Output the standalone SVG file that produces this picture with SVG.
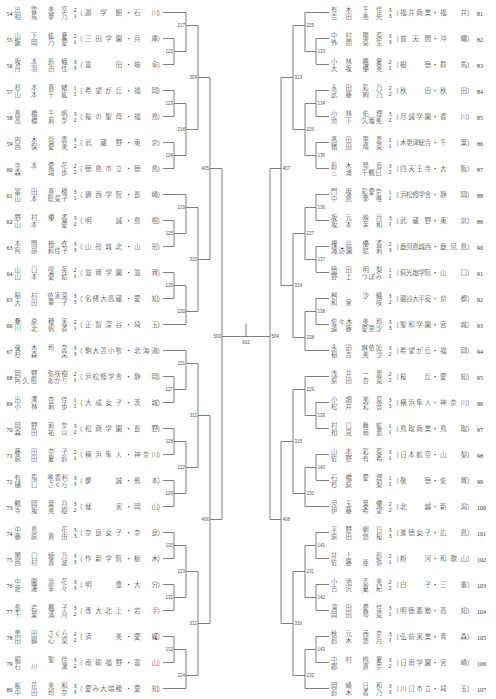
<svg xmlns="http://www.w3.org/2000/svg" xmlns:xlink="http://www.w3.org/1999/xlink" width="496" height="699" viewBox="0 0 496 699">
<style>
.p{font-family:"Noto Sans CJK JP","Noto Sans CJK SC",sans-serif;font-size:6.3px;font-weight:300;fill:#222}
.s{font-family:"Noto Sans CJK JP","Noto Sans CJK SC",sans-serif;font-size:6.6px;font-weight:300;fill:#222}
.n,.g{font-family:"Liberation Serif",serif;font-size:6px;fill:#333}
.m{font-family:"Liberation Sans",sans-serif;font-size:4.5px;fill:#555}
.c path{fill:none;stroke:#707070;stroke-width:0.9}
</style>
<defs>
<g id="lp" font-family="Noto Sans CJK JP, sans-serif" font-size="6.6" font-weight="300" fill="#222"><text x="76" y="2.6">（</text><text x="125.2" y="2.6">・</text><text x="157.5" y="2.6">）</text></g>
<g id="rp" font-family="Noto Sans CJK JP, sans-serif" font-size="6.6" font-weight="300" fill="#222"><text x="392.2" y="2.6">（</text><text x="431.7" y="2.6">・</text><text x="467" y="2.6">）</text></g>
</defs>
<rect width="496" height="699" fill="#fff"/>

<g class="c" id="connectors">
<path d="M163 38.5H174V64.5H163M174 51.5H186"/>
<path d="M163 90.5H174V116.5H163M174 103.5H186"/>
<path d="M163 142.5H174V168.5H163M174 155.5H186"/>
<path d="M163 220.5H174V246.5H163M174 233.5H186"/>
<path d="M163 272.5H174V298.5H163M174 285.5H186"/>
<path d="M163 376.5H174V402.5H163M174 389.5H186"/>
<path d="M163 428.5H174V454.5H163M174 441.5H186"/>
<path d="M163 480.5H174V506.5H163M174 493.5H186"/>
<path d="M163 532.5H174V558.5H163M174 545.5H186"/>
<path d="M163 584.5H174V610.5H163M174 597.5H186"/>
<path d="M163 636.5H174V662.5H163M174 649.5H186"/>
<path d="M163 12.5H186M163 194.5H186M163 324.5H186M163 350.5H186M163 688.5H186"/>
<path d="M186 12.5V51.5M186 25.5H198"/>
<path d="M186 103.5V155.5M186 129.5H198"/>
<path d="M186 194.5V233.5M186 207.5H198"/>
<path d="M186 285.5V324.5M186 311.5H198"/>
<path d="M186 350.5V389.5M186 363.5H198"/>
<path d="M186 441.5V493.5M186 467.5H198"/>
<path d="M186 545.5V597.5M186 571.5H198"/>
<path d="M186 649.5V688.5M186 675.5H198"/>
<path d="M198 25.5V129.5M198 77.5H210"/>
<path d="M198 207.5V311.5M198 259.5H210"/>
<path d="M198 363.5V467.5M198 415.5H210"/>
<path d="M198 571.5V675.5M198 623.5H210"/>
<path d="M210 77.5V259.5M210 168.5H222"/>
<path d="M210 415.5V623.5M210 519.5H222"/>
<path d="M222 168.5V519.5M222 336.5H270"/>
<path d="M270 168.5V519.5"/>
<path d="M246 323.5V336.5"/>
<path d="M329 38.5H316V64.5H329M316 51.5H305"/>
<path d="M329 90.5H316V116.5H329M316 103.5H305"/>
<path d="M329 142.5H316V168.5H329M316 155.5H305"/>
<path d="M329 194.5H316V220.5H329M316 207.5H305"/>
<path d="M329 246.5H316V272.5H329M316 259.5H305"/>
<path d="M329 298.5H316V324.5H329M316 311.5H305"/>
<path d="M329 402.5H316V428.5H329M316 415.5H305"/>
<path d="M329 454.5H316V480.5H329M316 467.5H305"/>
<path d="M329 532.5H316V558.5H329M316 545.5H305"/>
<path d="M329 584.5H316V610.5H329M316 597.5H305"/>
<path d="M329 636.5H316V662.5H329M316 649.5H305"/>
<path d="M329 12.5H305M329 350.5H305M329 376.5H305M329 506.5H305M329 688.5H305"/>
<path d="M305 12.5V51.5M305 25.5H293"/>
<path d="M305 103.5V155.5M305 129.5H293"/>
<path d="M305 207.5V259.5M305 233.5H293"/>
<path d="M305 311.5V350.5M305 337.5H293"/>
<path d="M305 376.5V415.5M305 389.5H293"/>
<path d="M305 467.5V506.5M305 493.5H293"/>
<path d="M305 545.5V597.5M305 571.5H293"/>
<path d="M305 649.5V688.5M305 675.5H293"/>
<path d="M293 25.5V129.5M293 77.5H281"/>
<path d="M293 233.5V337.5M293 285.5H281"/>
<path d="M293 389.5V493.5M293 441.5H281"/>
<path d="M293 571.5V675.5M293 623.5H281"/>
<path d="M281 77.5V285.5M281 168.5H270"/>
<path d="M281 441.5V623.5M281 519.5H270"/>
</g>

<g id="match-labels" class="m">
<g text-anchor="end">
<text x="173" y="53.1">122</text><text x="173" y="105.1">123</text><text x="173" y="157.1">124</text><text x="173" y="235.1">125</text><text x="173" y="287.1">126</text><text x="173" y="391.1">127</text><text x="173" y="443.1">128</text><text x="173" y="495.1">129</text><text x="173" y="547.1">130</text><text x="173" y="599.1">131</text><text x="173" y="651.1">132</text>
<text x="185" y="27.1">217</text><text x="185" y="131.1">218</text><text x="185" y="209.1">219</text><text x="185" y="313.1">220</text><text x="185" y="365.1">221</text><text x="185" y="469.1">222</text><text x="185" y="573.1">223</text><text x="185" y="677.1">224</text>
<text x="197" y="79.1">309</text><text x="197" y="261.1">310</text><text x="197" y="417.1">311</text><text x="197" y="625.1">312</text>
<text x="209" y="170.1">405</text><text x="209" y="521.1">406</text>
<text x="221" y="338.1">503</text>
</g>
<text x="246" y="344" text-anchor="middle">602</text>
<text x="317.5" y="53.1">133</text><text x="317.5" y="105.1">134</text><text x="317.5" y="157.1">135</text><text x="317.5" y="209.1">136</text><text x="317.5" y="261.1">137</text><text x="317.5" y="313.1">138</text><text x="317.5" y="417.1">139</text><text x="317.5" y="469.1">140</text><text x="317.5" y="547.1">141</text><text x="317.5" y="599.1">142</text><text x="317.5" y="651.1">143</text>
<text x="306.5" y="27.1">225</text><text x="306.5" y="131.1">226</text><text x="306.5" y="235.1">227</text><text x="306.5" y="339.1">228</text><text x="306.5" y="391.1">229</text><text x="306.5" y="495.1">230</text><text x="306.5" y="573.1">231</text><text x="306.5" y="677.1">232</text>
<text x="294.5" y="79.1">313</text><text x="294.5" y="287.1">314</text><text x="294.5" y="443.1">315</text><text x="294.5" y="625.1">316</text>
<text x="282.5" y="170.1">407</text><text x="282.5" y="521.1">408</text>
<text x="271.5" y="338.1">504</text>
</g>

<g id="e54" transform="translate(0,12.5)"><text class="n" x="6.5" y="3.5">54</text><text class="p"><tspan x="14.6 31 48 61.3" y="-0.5">出雲美空</tspan><tspan x="14.6 31 48 61.3" y="6.1">相馬夢乃</tspan></text><text class="g"><tspan x="73.5" y="-0.9">2</tspan><tspan x="73.5" y="5.7">1</tspan></text><use xlink:href="#lp"/><text class="s" x="85" y="2.6" textLength="37">遊学館</text><text class="s" x="134" y="2.6" textLength="24">石川</text></g>
<g id="e55" transform="translate(0,38.5)"><text class="n" x="6.5" y="3.5">55</text><text class="p"><tspan x="14.6 31 48 61.3" y="-0.5">山下紘夏</tspan><tspan x="14.6 31 48 61.3" y="6.1">飯岡乃愛</tspan></text><text class="g"><tspan x="73.5" y="-0.9">2</tspan><tspan x="73.5" y="5.7">1</tspan></text><use xlink:href="#lp"/><text class="s" x="85" y="2.6" textLength="37">三田学園</text><text class="s" x="134" y="2.6" textLength="24">兵庫</text></g>
<g id="e56" transform="translate(0,64.5)"><text class="n" x="6.5" y="3.5">56</text><text class="p"><tspan x="14.6 31 48 61.3" y="-0.5">坂本鈴織</tspan><tspan x="14.6 31 48 61.3" y="6.1">丹羽由佳</tspan></text><text class="g"><tspan x="73.5" y="-0.9">3</tspan><tspan x="73.5" y="5.7">3</tspan></text><use xlink:href="#lp"/><text class="s" x="85" y="2.6" textLength="37">富田</text><text class="s" x="134" y="2.6" textLength="24">岐阜</text></g>
<g id="e57" transform="translate(0,90.5)"><text class="n" x="6.5" y="3.5">57</text><text class="p"><tspan x="14.6 31 48 61.3" y="-0.5">杉本真緒</tspan><tspan x="14.6 31 48 61.3" y="6.1">山本千紘</tspan></text><text class="g"><tspan x="73.5" y="-0.9">1</tspan><tspan x="73.5" y="5.7">1</tspan></text><use xlink:href="#lp"/><text class="s" x="85" y="2.6" textLength="37">希望が丘</text><text class="s" x="134" y="2.6" textLength="24">福岡</text></g>
<g id="e58" transform="translate(0,116.5)"><text class="n" x="6.5" y="3.5">58</text><text class="p"><tspan x="14.6 31 48 61.3" y="-0.5">髙橋千帆</tspan><tspan x="14.6 31 48 61.3" y="6.1">高橋莉奈</tspan></text><text class="g"><tspan x="73.5" y="-0.9">3</tspan><tspan x="73.5" y="5.7">2</tspan></text><use xlink:href="#lp"/><text class="s" x="85" y="2.6" textLength="37">桜の聖母</text><text class="s" x="134" y="2.6" textLength="24">福島</text></g>
<g id="e59" transform="translate(0,142.5)"><text class="n" x="6.5" y="3.5">59</text><text class="p"><tspan x="14.6 31 48 61.3" y="-0.5">内木尚恵</tspan><tspan x="14.6 31 48 61.3" y="6.1">西保愛美</tspan></text><text class="g"><tspan x="73.5" y="-0.9">3</tspan><tspan x="73.5" y="5.7">2</tspan></text><use xlink:href="#lp"/><text class="s" x="85" y="2.6" textLength="37">武蔵野</text><text class="s" x="134" y="2.6" textLength="24">東京</text></g>
<g id="e60" transform="translate(0,168.5)"><text class="n" x="6.5" y="3.5">60</text><text class="p"><tspan x="14.6 31 48 61.3" y="-0.5">寺本愛花</tspan><tspan x="14.6 31 48 61.3" y="6.1">森　瑞歩</tspan></text><text class="g"><tspan x="73.5" y="-0.9">2</tspan><tspan x="73.5" y="5.7">2</tspan></text><use xlink:href="#lp"/><text class="s" x="85" y="2.6" textLength="37">徳島市立</text><text class="s" x="134" y="2.6" textLength="24">徳島</text></g>
<g id="e61" transform="translate(0,194.5)"><text class="n" x="6.5" y="3.5">61</text><text class="p"><tspan x="14.6 31 48 61.3" y="-0.5">冨田真穂</tspan><tspan x="14.6 31 47.5 54.5 61.5" y="6.1">山本聡菜子</tspan></text><text class="g"><tspan x="73.5" y="-0.9">3</tspan><tspan x="73.5" y="5.7">1</tspan></text><use xlink:href="#lp"/><text class="s" x="85" y="2.6" textLength="37">鎮西学院</text><text class="s" x="134" y="2.6" textLength="24">長崎</text></g>
<g id="e62" transform="translate(0,220.5)"><text class="n" x="6.5" y="3.5">62</text><text class="p"><tspan x="14.6 31 48 61.3" y="-0.5">野村優香</tspan><tspan x="14.6 31 48 61.3" y="6.1">山本　愛</tspan></text><text class="g"><tspan x="73.5" y="-0.9">3</tspan><tspan x="73.5" y="5.7">2</tspan></text><use xlink:href="#lp"/><text class="s" x="85" y="2.6" textLength="37">明誠</text><text class="s" x="134" y="2.6" textLength="24">島根</text></g>
<g id="e63" transform="translate(0,246.5)"><text class="n" x="6.5" y="3.5">63</text><text class="p"><tspan x="14.6 31 48 61.3" y="-0.5">本間柚衣</tspan><tspan x="14.6 31 47.5 54.5 61.5" y="6.1">阿部莉佳子</tspan></text><text class="g"><tspan x="73.5" y="-0.9">3</tspan><tspan x="73.5" y="5.7">3</tspan></text><use xlink:href="#lp"/><text class="s" x="85" y="2.6" textLength="37">山形城北</text><text class="s" x="134" y="2.6" textLength="24">山形</text></g>
<g id="e64" transform="translate(0,272.5)"><text class="n" x="6.5" y="3.5">64</text><text class="p"><tspan x="14.6 31 48 61.3" y="-0.5">山口咲英</tspan><tspan x="14.6 31 48 61.3" y="6.1">山本愛結</tspan></text><text class="g"><tspan x="73.5" y="-0.9">2</tspan><tspan x="73.5" y="5.7">1</tspan></text><use xlink:href="#lp"/><text class="s" x="85" y="2.6" textLength="37">滋賀学園</text><text class="s" x="134" y="2.6" textLength="24">滋賀</text></g>
<g id="e65" transform="translate(0,298.5)"><text class="n" x="6.5" y="3.5">65</text><text class="p"><tspan x="14.6 31 47.5 54.5 61.5" y="-0.5">稲村依実菜</tspan><tspan x="14.6 31 48 61.3" y="6.1">大田華子</tspan></text><text class="g"><tspan x="73.5" y="-0.9">3</tspan><tspan x="73.5" y="5.7">3</tspan></text><use xlink:href="#lp"/><text class="s" x="85" y="2.6" textLength="37">名経大高蔵</text><text class="s" x="134" y="2.6" textLength="24">愛知</text></g>
<g id="e66" transform="translate(0,324.5)"><text class="n" x="6.5" y="3.5">66</text><text class="p"><tspan x="14.6 31 48 61.3" y="-0.5">桑原穂実</tspan><tspan x="14.6 31 48 61.3" y="6.1">川北帆香</tspan></text><text class="g"><tspan x="73.5" y="-0.9">2</tspan><tspan x="73.5" y="5.7">1</tspan></text><use xlink:href="#lp"/><text class="s" x="85" y="2.6" textLength="37">正智深谷</text><text class="s" x="134" y="2.6" textLength="24">埼玉</text></g>
<g id="e67" transform="translate(0,350.5)"><text class="n" x="6.5" y="3.5">67</text><text class="p"><tspan x="14.6 31 48 61.3" y="-0.5">後木玲奈</tspan><tspan x="14.6 31 48 61.3" y="6.1">杉森　栞</tspan></text><text class="g"><tspan x="73.5" y="-0.9">3</tspan><tspan x="73.5" y="5.7">3</tspan></text><use xlink:href="#lp"/><text class="s" x="85" y="2.6" textLength="37">駒大苫小牧</text><text class="s" x="134" y="2.6" textLength="24">北海道</text></g>
<g id="e68" transform="translate(0,376.5)"><text class="n" x="6.5" y="3.5">68</text><text class="p"><tspan x="14.6 31 47.5 54.5 61.5" y="-0.5">岡野弥咲樹</tspan><tspan x="14.6 22.6 30.6 47.5 54.5 61.5" y="6.1">阿久根あかり</tspan></text><text class="g"><tspan x="73.5" y="-0.9">2</tspan><tspan x="73.5" y="5.7">1</tspan></text><use xlink:href="#lp"/><text class="s" x="85" y="2.6" textLength="37">浜松修学舎</text><text class="s" x="134" y="2.6" textLength="24">静岡</text></g>
<g id="e69" transform="translate(0,402.5)"><text class="n" x="6.5" y="3.5">69</text><text class="p"><tspan x="14.6 31 48 61.3" y="-0.5">出澤杏佳</tspan><tspan x="14.6 31 48 61.3" y="6.1">小林莉歩</tspan></text><text class="g"><tspan x="73.5" y="-0.9">1</tspan><tspan x="73.5" y="5.7">1</tspan></text><use xlink:href="#lp"/><text class="s" x="85" y="2.6" textLength="37">大成女子</text><text class="s" x="134" y="2.6" textLength="24">茨城</text></g>
<g id="e70" transform="translate(0,428.5)"><text class="n" x="6.5" y="3.5">70</text><text class="p"><tspan x="14.6 31 48 61.3" y="-0.5">岡野莉奈</tspan><tspan x="14.6 31 48 61.3" y="6.1">森田祐以</tspan></text><text class="g"><tspan x="73.5" y="-0.9">3</tspan><tspan x="73.5" y="5.7">2</tspan></text><use xlink:href="#lp"/><text class="s" x="85" y="2.6" textLength="37">松商学園</text><text class="s" x="134" y="2.6" textLength="24">長野</text></g>
<g id="e71" transform="translate(0,454.5)"><text class="n" x="6.5" y="3.5">71</text><text class="p"><tspan x="14.6 31 48 61.3" y="-0.5">藤田奈子</tspan><tspan x="14.6 31 48 61.3" y="6.1">原田夏鈴</tspan></text><text class="g"><tspan x="73.5" y="-0.9">2</tspan><tspan x="73.5" y="5.7">1</tspan></text><use xlink:href="#lp"/><text class="s" x="85" y="2.6" textLength="37">横浜隼人</text><text class="s" x="134" y="2.6" textLength="24">神奈川</text></g>
<g id="e72" transform="translate(0,480.5)"><text class="n" x="6.5" y="3.5">72</text><text class="p"><tspan x="14.6 31 47.5 54.5 61.5" y="-0.5">有馬唯香利</tspan><tspan x="14.6 31 47.5 54.5 61.5" y="6.1">樋口さくら</tspan></text><text class="g"><tspan x="73.5" y="-0.9">3</tspan><tspan x="73.5" y="5.7">3</tspan></text><use xlink:href="#lp"/><text class="s" x="85" y="2.6" textLength="37">慶誠</text><text class="s" x="134" y="2.6" textLength="24">熊本</text></g>
<g id="e73" transform="translate(0,506.5)"><text class="n" x="6.5" y="3.5">73</text><text class="p"><tspan x="14.6 31 48 61.3" y="-0.5">鶴岡葉月</tspan><tspan x="14.6 31 48 61.3" y="6.1">寺坂美樹</tspan></text><text class="g"><tspan x="73.5" y="-0.9">3</tspan><tspan x="73.5" y="5.7">2</tspan></text><use xlink:href="#lp"/><text class="s" x="85" y="2.6" textLength="37">就実</text><text class="s" x="134" y="2.6" textLength="24">岡山</text></g>
<g id="e74" transform="translate(0,532.5)"><text class="n" x="6.5" y="3.5">74</text><text class="p"><tspan x="14.6 31 48 61.3" y="-0.5">中島　花</tspan><tspan x="14.6 31 48 61.3" y="6.1">藤原真由</tspan></text><text class="g"><tspan x="73.5" y="-0.9">3</tspan><tspan x="73.5" y="5.7">3</tspan></text><use xlink:href="#lp"/><text class="s" x="85" y="2.6" textLength="37">奈良女子</text><text class="s" x="134" y="2.6" textLength="24">奈良</text></g>
<g id="e75" transform="translate(0,558.5)"><text class="n" x="6.5" y="3.5">75</text><text class="p"><tspan x="14.6 31 48 61.3" y="-0.5">関口綾乃</tspan><tspan x="14.6 31 48 61.3" y="6.1">西村真波</tspan></text><text class="g"><tspan x="73.5" y="-0.9">3</tspan><tspan x="73.5" y="5.7">3</tspan></text><use xlink:href="#lp"/><text class="s" x="85" y="2.6" textLength="37">作新学院</text><text class="s" x="134" y="2.6" textLength="24">栃木</text></g>
<g id="e76" transform="translate(0,584.5)"><text class="n" x="6.5" y="3.5">76</text><text class="p"><tspan x="14.6 31 48 61.3" y="-0.5">中園涼花</tspan><tspan x="14.6 31 48 61.3" y="6.1">渡邊寧々</tspan></text><text class="g"><tspan x="73.5" y="-0.9">3</tspan><tspan x="73.5" y="5.7">3</tspan></text><use xlink:href="#lp"/><text class="s" x="85" y="2.6" textLength="37">明豊</text><text class="s" x="134" y="2.6" textLength="24">大分</text></g>
<g id="e77" transform="translate(0,610.5)"><text class="n" x="6.5" y="3.5">77</text><text class="p"><tspan x="14.6 31 48 61.3" y="-0.5">長岩楓子</tspan><tspan x="14.6 31 48 61.3" y="6.1">千葉満月</tspan></text><text class="g"><tspan x="73.5" y="-0.9">3</tspan><tspan x="73.5" y="5.7">2</tspan></text><use xlink:href="#lp"/><text class="s" x="85" y="2.6" textLength="37">専大北上</text><text class="s" x="134" y="2.6" textLength="24">岩手</text></g>
<g id="e78" transform="translate(0,636.5)"><text class="n" x="6.5" y="3.5">78</text><text class="p"><tspan x="14.6 31 47.5 54.5 61.5" y="-0.5">黒田さくら</tspan><tspan x="14.6 31 48 61.3" y="6.1">田鍋心菜</tspan></text><text class="g"><tspan x="73.5" y="-0.9">2</tspan><tspan x="73.5" y="5.7">2</tspan></text><use xlink:href="#lp"/><text class="s" x="85" y="2.6" textLength="37">済美</text><text class="s" x="134" y="2.6" textLength="24">愛媛</text></g>
<g id="e79" transform="translate(0,662.5)"><text class="n" x="6.5" y="3.5">79</text><text class="p"><tspan x="14.6 31 48 61.3" y="-0.5">堀　聖佳</tspan><tspan x="14.6 31 48 61.3" y="6.1">石川　凜</tspan></text><text class="g"><tspan x="73.5" y="-0.9">3</tspan><tspan x="73.5" y="5.7">2</tspan></text><use xlink:href="#lp"/><text class="s" x="85" y="2.6" textLength="37">南砺福野</text><text class="s" x="134" y="2.6" textLength="24">富山</text></g>
<g id="e80" transform="translate(0,688.5)"><text class="n" x="6.5" y="3.5">80</text><text class="p"><tspan x="14.6 31 48 61.3" y="-0.5">板花美和</tspan><tspan x="14.6 31 48 61.3" y="6.1">中田玲奈</tspan></text><text class="g"><tspan x="73.5" y="-0.9">3</tspan><tspan x="73.5" y="5.7">3</tspan></text><use xlink:href="#lp"/><text class="s" x="85" y="2.6" textLength="37">愛み大瑞穂</text><text class="s" x="134" y="2.6" textLength="24">愛知</text></g>

<g id="e81" transform="translate(0,12.5)"><text class="p"><tspan x="331.1 345.6 362.6 376.1" y="-0.5">有木千佳</tspan><tspan x="331.1 345.6 362.6 376.1" y="6.1">吉田美央</tspan></text><text class="g"><tspan x="388.5" y="-0.9">3</tspan><tspan x="388.5" y="5.7">3</tspan></text><use xlink:href="#rp"/><text class="s" x="400" y="2.6" textLength="31">福井商業</text><text class="s" x="440" y="2.6" textLength="27">福井</text><text class="n" x="477" y="3.5">81</text></g>
<g id="e82" transform="translate(0,38.5)"><text class="p"><tspan x="331.1 345.6 362.6 376.1" y="-0.5">中村陽菜</tspan><tspan x="331.1 345.6 362.6 376.1" y="6.1">外間菜生</tspan></text><text class="g"><tspan x="388.5" y="-0.9">3</tspan><tspan x="388.5" y="5.7">3</tspan></text><use xlink:href="#rp"/><text class="s" x="400" y="2.6" textLength="31">普天間</text><text class="s" x="440" y="2.6" textLength="27">沖縄</text><text class="n" x="477" y="3.5">82</text></g>
<g id="e83" transform="translate(0,64.5)"><text class="p"><tspan x="331.1 345.6 362.6 376.1" y="-0.5">小林楓夏</tspan><tspan x="331.1 345.6 362.6 376.1" y="6.1">大坂優美</tspan></text><text class="g"><tspan x="388.5" y="-0.9">2</tspan><tspan x="388.5" y="5.7">1</tspan></text><use xlink:href="#rp"/><text class="s" x="400" y="2.6" textLength="31">樹徳</text><text class="s" x="440" y="2.6" textLength="27">群馬</text><text class="n" x="477" y="3.5">83</text></g>
<g id="e84" transform="translate(0,90.5)"><text class="p"><tspan x="331.1 345.6 362.6 376.1" y="-0.5">永田彩乃</tspan><tspan x="331.1 345.6 362.6 376.1" y="6.1">武藤絢乃</tspan></text><text class="g"><tspan x="388.5" y="-0.9">2</tspan><tspan x="388.5" y="5.7">2</tspan></text><use xlink:href="#rp"/><text class="s" x="400" y="2.6" textLength="31">秋田</text><text class="s" x="440" y="2.6" textLength="27">秋田</text><text class="n" x="477" y="3.5">84</text></g>
<g id="e85" transform="translate(0,116.5)"><text class="p"><tspan x="331.1 345.6 362.6 376.1" y="-0.5">小林佑理</tspan><tspan x="331.1 345.6 361.6 368.6 375.6" y="6.1">池下久瑠美</tspan></text><text class="g"><tspan x="388.5" y="-0.9">3</tspan><tspan x="388.5" y="5.7">2</tspan></text><use xlink:href="#rp"/><text class="s" x="400" y="2.6" textLength="31">尽誠学園</text><text class="s" x="440" y="2.6" textLength="27">香川</text><text class="n" x="477" y="3.5">85</text></g>
<g id="e86" transform="translate(0,142.5)"><text class="p"><tspan x="331.1 345.6 362.6 376.1" y="-0.5">髙田里恵</tspan><tspan x="331.1 345.6 362.6 376.1" y="6.1">猪田晴菜</tspan></text><text class="g"><tspan x="388.5" y="-0.9">1</tspan><tspan x="388.5" y="5.7">1</tspan></text><use xlink:href="#rp"/><text class="s" x="400" y="2.6" textLength="31">木更津総合</text><text class="s" x="440" y="2.6" textLength="27">千葉</text><text class="n" x="477" y="3.5">86</text></g>
<g id="e87" transform="translate(0,168.5)"><text class="p"><tspan x="331.1 345.6 362.6 376.1" y="-0.5">鈴木琴音</tspan><tspan x="331.1 345.6 361.6 368.6 375.6" y="6.1">三浦千鶴巳</tspan></text><text class="g"><tspan x="388.5" y="-0.9">3</tspan><tspan x="388.5" y="5.7">2</tspan></text><use xlink:href="#rp"/><text class="s" x="400" y="2.6" textLength="31">四天王寺</text><text class="s" x="440" y="2.6" textLength="27">大阪</text><text class="n" x="477" y="3.5">87</text></g>
<g id="e88" transform="translate(0,194.5)"><text class="p"><tspan x="331.1 345.6 361.6 368.6 375.6" y="-0.5">門坂彩愛奈</tspan><tspan x="331.1 345.6 362.6 376.1" y="6.1">中島夢唯</tspan></text><text class="g"><tspan x="388.5" y="-0.9">1</tspan><tspan x="388.5" y="5.7">1</tspan></text><use xlink:href="#rp"/><text class="s" x="400" y="2.6" textLength="31">浜松修学舎</text><text class="s" x="440" y="2.6" textLength="27">静岡</text><text class="n" x="477" y="3.5">88</text></g>
<g id="e89" transform="translate(0,220.5)"><text class="p"><tspan x="331.1 345.6 362.6 376.1" y="-0.5">坂元映月</tspan><tspan x="331.1 345.6 362.6 376.1" y="6.1">坂本茉和</tspan></text><text class="g"><tspan x="388.5" y="-0.9">3</tspan><tspan x="388.5" y="5.7">1</tspan></text><use xlink:href="#rp"/><text class="s" x="400" y="2.6" textLength="31">武蔵野</text><text class="s" x="440" y="2.6" textLength="27">東京</text><text class="n" x="477" y="3.5">89</text></g>
<g id="e90" transform="translate(0,246.5)"><text class="p"><tspan x="331.1 345.6 362.6 376.1" y="-0.5">榎谷優香</tspan><tspan x="331.1 338.6 346.1 362.6 376.1" y="6.1">諏訪園結莉</tspan></text><text class="g"><tspan x="388.5" y="-0.9">2</tspan><tspan x="388.5" y="5.7">3</tspan></text><use xlink:href="#rp"/><text class="s" x="400" y="2.6" textLength="31">鹿児島城西</text><text class="s" x="440" y="2.6" textLength="27">鹿児島</text><text class="n" x="477" y="3.5">90</text></g>
<g id="e91" transform="translate(0,272.5)"><text class="p"><tspan x="331.1 345.6 362.6 376.1" y="-0.5">徳田明梨</tspan><tspan x="331.1 345.6 361.6 368.6 375.6" y="6.1">野上つぼみ</tspan></text><text class="g"><tspan x="388.5" y="-0.9">1</tspan><tspan x="388.5" y="5.7">1</tspan></text><use xlink:href="#rp"/><text class="s" x="400" y="2.6" textLength="31">萩光塩学院</text><text class="s" x="440" y="2.6" textLength="27">山口</text><text class="n" x="477" y="3.5">91</text></g>
<g id="e92" transform="translate(0,298.5)"><text class="p"><tspan x="331.1 345.6 362.6 376.1" y="-0.5">桝　沙織</tspan><tspan x="331.1 345.6 362.6 376.1" y="6.1">和泉　咲</tspan></text><text class="g"><tspan x="388.5" y="-0.9">3</tspan><tspan x="388.5" y="5.7">2</tspan></text><use xlink:href="#rp"/><text class="s" x="400" y="2.6" textLength="31">龍谷大平安</text><text class="s" x="440" y="2.6" textLength="27">京都</text><text class="n" x="477" y="3.5">92</text></g>
<g id="e93" transform="translate(0,324.5)"><text class="p"><tspan x="331.1 338.6 346.1 362.6 376.1" y="-0.5">佐々木美玲</tspan><tspan x="331.1 345.6 361.6 368.6 375.6" y="6.1">遠藤愛里沙</tspan></text><text class="g"><tspan x="388.5" y="-0.9">3</tspan><tspan x="388.5" y="5.7">3</tspan></text><use xlink:href="#rp"/><text class="s" x="400" y="2.6" textLength="31">聖和学園</text><text class="s" x="440" y="2.6" textLength="27">宮城</text><text class="n" x="477" y="3.5">93</text></g>
<g id="e94" transform="translate(0,350.5)"><text class="p"><tspan x="331.1 345.6 361.6 368.6 375.6" y="-0.5">永迫麻依加</tspan><tspan x="331.1 345.6 362.6 376.1" y="6.1">稲吉美沙</tspan></text><text class="g"><tspan x="388.5" y="-0.9">3</tspan><tspan x="388.5" y="5.7">2</tspan></text><use xlink:href="#rp"/><text class="s" x="400" y="2.6" textLength="31">希望が丘</text><text class="s" x="440" y="2.6" textLength="27">福岡</text><text class="n" x="477" y="3.5">94</text></g>
<g id="e95" transform="translate(0,376.5)"><text class="p"><tspan x="331.1 345.6 362.6 376.1" y="-0.5">浅井一恵</tspan><tspan x="331.1 345.6 362.6 376.1" y="6.1">原田杏菜</tspan></text><text class="g"><tspan x="388.5" y="-0.9">2</tspan><tspan x="388.5" y="5.7">2</tspan></text><use xlink:href="#rp"/><text class="s" x="400" y="2.6" textLength="31">桜丘</text><text class="s" x="440" y="2.6" textLength="27">愛知</text><text class="n" x="477" y="3.5">95</text></g>
<g id="e96" transform="translate(0,402.5)"><text class="p"><tspan x="331.1 345.6 362.6 376.1" y="-0.5">小畑美菜</tspan><tspan x="331.1 345.6 362.6 376.1" y="6.1">松井彩音</tspan></text><text class="g"><tspan x="388.5" y="-0.9">3</tspan><tspan x="388.5" y="5.7">3</tspan></text><use xlink:href="#rp"/><text class="s" x="400" y="2.6" textLength="31">横浜隼人</text><text class="s" x="440" y="2.6" textLength="27">神奈川</text><text class="n" x="477" y="3.5">96</text></g>
<g id="e97" transform="translate(0,428.5)"><text class="p"><tspan x="331.1 345.6 362.6 376.1" y="-0.5">村口舞紘</tspan><tspan x="331.1 345.6 362.6 376.1" y="6.1">相見萌恵</tspan></text><text class="g"><tspan x="388.5" y="-0.9">1</tspan><tspan x="388.5" y="5.7">1</tspan></text><use xlink:href="#rp"/><text class="s" x="400" y="2.6" textLength="31">鳥取商業</text><text class="s" x="440" y="2.6" textLength="27">鳥取</text><text class="n" x="477" y="3.5">97</text></g>
<g id="e98" transform="translate(0,454.5)"><text class="p"><tspan x="331.1 345.6 362.6 376.1" y="-0.5">山本彩菜</tspan><tspan x="331.1 345.6 362.6 376.1" y="6.1">佐野有希</tspan></text><text class="g"><tspan x="388.5" y="-0.9">3</tspan><tspan x="388.5" y="5.7">1</tspan></text><use xlink:href="#rp"/><text class="s" x="400" y="2.6" textLength="31">日本航空</text><text class="s" x="440" y="2.6" textLength="27">山梨</text><text class="n" x="477" y="3.5">98</text></g>
<g id="e99" transform="translate(0,480.5)"><text class="p"><tspan x="331.1 345.6 362.6 376.1" y="-0.5">石橋愛理</tspan><tspan x="331.1 345.6 362.6 376.1" y="6.1">杉原　梨</tspan></text><text class="g"><tspan x="388.5" y="-0.9">1</tspan><tspan x="388.5" y="5.7">1</tspan></text><use xlink:href="#rp"/><text class="s" x="400" y="2.6" textLength="31">敬徳</text><text class="s" x="440" y="2.6" textLength="27">佐賀</text><text class="n" x="477" y="3.5">99</text></g>
<g id="e100" transform="translate(0,506.5)"><text class="p"><tspan x="331.1 345.6 362.6 376.1" y="-0.5">児玉葉優</tspan><tspan x="331.1 345.6 362.6 376.1" y="6.1">伊藤希望</tspan></text><text class="g"><tspan x="388.5" y="-0.9">2</tspan><tspan x="388.5" y="5.7">2</tspan></text><use xlink:href="#rp"/><text class="s" x="400" y="2.6" textLength="31">北越</text><text class="s" x="440" y="2.6" textLength="27">新潟</text><text class="n" x="477" y="3.5">100</text></g>
<g id="e101" transform="translate(0,532.5)"><text class="p"><tspan x="331.1 345.6 362.6 376.1" y="-0.5">平野朝日</tspan><tspan x="331.1 345.6 362.6 376.1" y="6.1">原田悠桜</tspan></text><text class="g"><tspan x="388.5" y="-0.9">3</tspan><tspan x="388.5" y="5.7">3</tspan></text><use xlink:href="#rp"/><text class="s" x="400" y="2.6" textLength="31">進徳女子</text><text class="s" x="440" y="2.6" textLength="27">広島</text><text class="n" x="477" y="3.5">101</text></g>
<g id="e102" transform="translate(0,558.5)"><text class="p"><tspan x="331.1 345.6 362.6 376.1" y="-0.5">井上　鈴</tspan><tspan x="331.1 345.6 362.6 376.1" y="6.1">佐藤亜弥</tspan></text><text class="g"><tspan x="388.5" y="-0.9">2</tspan><tspan x="388.5" y="5.7">1</tspan></text><use xlink:href="#rp"/><text class="s" x="400" y="2.6" textLength="31">粉河</text><text class="s" x="440" y="2.6" textLength="27">和歌山</text><text class="n" x="477" y="3.5">102</text></g>
<g id="e103" transform="translate(0,584.5)"><text class="p"><tspan x="331.1 345.6 362.6 376.1" y="-0.5">小池恋美</tspan><tspan x="331.1 345.6 362.6 376.1" y="6.1">古沢夏紀</tspan></text><text class="g"><tspan x="388.5" y="-0.9">2</tspan><tspan x="388.5" y="5.7">2</tspan></text><use xlink:href="#rp"/><text class="s" x="400" y="2.6" textLength="31">白子</text><text class="s" x="440" y="2.6" textLength="27">三重</text><text class="n" x="477" y="3.5">103</text></g>
<g id="e104" transform="translate(0,610.5)"><text class="p"><tspan x="331.1 345.6 362.6 376.1" y="-0.5">濱田愛佳</tspan><tspan x="331.1 345.6 362.6 376.1" y="6.1">岡田琴菜</tspan></text><text class="g"><tspan x="388.5" y="-0.9">3</tspan><tspan x="388.5" y="5.7">1</tspan></text><use xlink:href="#rp"/><text class="s" x="400" y="2.6" textLength="31">明徳義塾</text><text class="s" x="440" y="2.6" textLength="27">高知</text><text class="n" x="477" y="3.5">104</text></g>
<g id="e105" transform="translate(0,636.5)"><text class="p"><tspan x="331.1 345.6 362.6 376.1" y="-0.5">秋元茜奈</tspan><tspan x="331.1 345.6 362.6 376.1" y="6.1">鈴木悠月</tspan></text><text class="g"><tspan x="388.5" y="-0.9">3</tspan><tspan x="388.5" y="5.7">1</tspan></text><use xlink:href="#rp"/><text class="s" x="400" y="2.6" textLength="31">弘前実業</text><text class="s" x="440" y="2.6" textLength="27">青森</text><text class="n" x="477" y="3.5">105</text></g>
<g id="e106" transform="translate(0,662.5)"><text class="p"><tspan x="331.1 345.6 362.6 376.1" y="-0.5">中村桃夏</tspan><tspan x="331.1 345.6 362.6 376.1" y="6.1">郡　真奈</tspan></text><text class="g"><tspan x="388.5" y="-0.9">3</tspan><tspan x="388.5" y="5.7">2</tspan></text><use xlink:href="#rp"/><text class="s" x="400" y="2.6" textLength="31">日南学園</text><text class="s" x="440" y="2.6" textLength="27">宮崎</text><text class="n" x="477" y="3.5">106</text></g>
<g id="e107" transform="translate(0,688.5)"><text class="p"><tspan x="331.1 345.6 362.6 376.1" y="-0.5">岡崎日和</tspan><tspan x="331.1 345.6 362.6 376.1" y="6.1">鈴木香乃</tspan></text><text class="g"><tspan x="388.5" y="-0.9">3</tspan><tspan x="388.5" y="5.7">3</tspan></text><use xlink:href="#rp"/><text class="s" x="400" y="2.6" textLength="31">川口市立</text><text class="s" x="440" y="2.6" textLength="27">埼玉</text><text class="n" x="477" y="3.5">107</text></g>
</svg>
